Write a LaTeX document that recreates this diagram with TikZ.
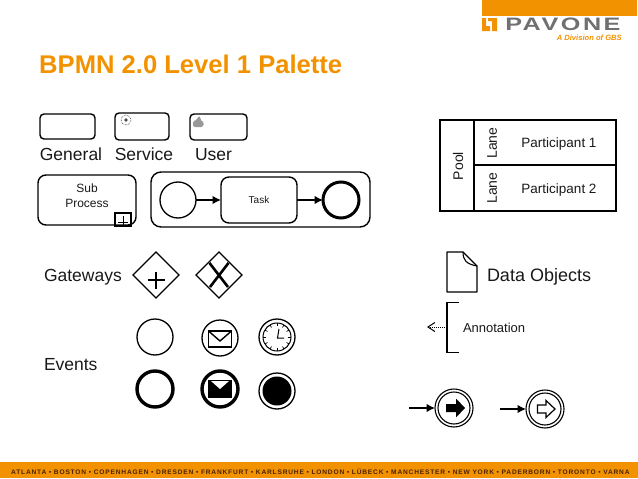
\documentclass[tikz,border=0pt]{standalone}
\usepackage{fontspec}
\setmainfont{Liberation Sans}
\newfontfamily\logofont[LetterSpace=10]{Liberation Sans}
\newfontfamily\footfont[LetterSpace=12.5]{Liberation Sans}
\usetikzlibrary{arrows.meta}
\usetikzlibrary{shapes.geometric}
\definecolor{pav}{HTML}{F39200}
\definecolor{logogray}{HTML}{6F7072}
\definecolor{footink}{HTML}{4A2400}
\tikzset{
 x=1pt,y=-1pt,
 txt/.style={inner sep=0,outer sep=0,text=black!90,font=\fontsize{#1}{#1}\selectfont},
 rbox/.style={draw,line width=1.4,rounded corners=#1,inner sep=0,outer sep=0},
 ev/.style={circle,draw,line width=#1,inner sep=0,outer sep=0,minimum size=36},
 gw/.style={diamond,draw,line width=1.4,inner sep=0,outer sep=0,minimum size=46,aspect=1},
 flow/.style={line width=1.3,-{Latex[length=8.5,width=8.5]}},
}
\begin{document}
\begin{tikzpicture}
\useasboundingbox (0,0) rectangle (638,479);
% bars
\fill[pav] (482,0) rectangle (637,16);
\fill[pav] (0,462) rectangle (638,478);
\node[inner sep=0,text=footink,font=\footfont\bfseries\fontsize{6.6}{7}\selectfont,anchor=west] (foot) at (11,471.5) {ATLANTA • BOSTON • COPENHAGEN • DRESDEN • FRANKFURT • KARLSRUHE • LONDON • LÜBECK • MANCHESTER • NEW YORK • PADERBORN • TORONTO • VARNA};
% logo
\fill[pav] (482,18) -- (486,18) -- (486,26) -- (490,26) -- (490,31) -- (482,31) -- cycle;
\fill[pav] (488,18) -- (497,18) -- (497,31) -- (492,31) -- (492,21) -- (488,21) -- cycle;
\node[inner sep=0,anchor=west,text=logogray,font=\logofont\bfseries\fontsize{18}{18}\selectfont,xscale=1.4,transform shape] (logo) at (505,24.5) {PAVONE};
\node[inner sep=0,anchor=east,text=pav,font=\bfseries\itshape\fontsize{7.6}{8}\selectfont] (gbs) at (622,37.5) {A Division of GBS};
% title
\node[inner sep=0,anchor=west,text=pav,font=\bfseries\fontsize{25.6}{26}\selectfont] (title) at (39,64) {BPMN 2.0 Level 1 Palette};
% task types
\node[rbox=4,minimum width=55,minimum height=25] (general) at (67.5,126.5) {};
\node[rbox=4,minimum width=54,minimum height=27] (service) at (142,126.5) {};
\node[rbox=4,minimum width=57,minimum height=26] (user) at (218.5,127) {};
\node[txt=17.5,anchor=base] (lgeneral) at (71,160) {General};
\node[txt=17.5,anchor=base] (lservice) at (144,160) {Service};
\node[txt=17.5,anchor=base] (luser) at (213.5,160) {User};
% service / user icons
\draw[line width=.6,densely dotted,black!80] (126,120) circle (5);
\fill[black!70] (126,120) circle (1.8);
\fill[black!40,rounded corners=1.5] (193,127) -- (193,121) -- (197,120) -- (198,116) -- (201,117) -- (200,120) -- (204,122) -- (203,127) -- cycle;
% sub process
\node[rbox=8,minimum width=98,minimum height=50] (sub) at (87,200) {};
\node[txt=12,align=center] (lsub) at (87,196) {Sub\\[3pt]Process};
\node[draw,line width=1.4,inner sep=0,outer sep=0,minimum width=16,minimum height=13] (plusbox) at (123,219.5) {};
\draw[line width=1] (123,216) -- (123,226) (118,222) -- (128,222);
% process
\node[rbox=10,minimum width=219,minimum height=55] (proc) at (260.5,199.5) {};
\node[ev=1.3] (start) at (178,200) {};
\node[rbox=8,minimum width=76,minimum height=46] (task) at (259,200) {};
\node[txt=10] (ltask) at (259,200) {Task};
\node[ev=3] (end) at (341,200) {};
\draw[flow] (start) -- (task);
\draw[flow] (task) -- (end);
% gateways
\node[txt=17.5,anchor=west] (lgw) at (44,277) {Gateways};
\node[gw] (gwp) at (156,275) {};
\draw[line width=2.3] (156,271.5) -- (156,288.5) (147.5,280) -- (164.5,280);
\node[gw] (gwx) at (219,275) {};
\draw[line width=2.6] (209.5,263) -- (228,287) (228.5,263) -- (210,287);
% events
\node[txt=17.5,anchor=west] (lev) at (44,364.5) {Events};
\node[ev=1.3] (e1) at (155,337) {};
\node[ev=1.3] (e2) at (220,338) {};
\draw[line width=1.5] (208.5,331) rectangle (231.5,347);
\draw[line width=1.4] (208.5,331) -- (220,341) -- (231.5,331);
\node[ev=1.3] (clock) at (277,337) {};
\node[circle,draw,line width=1,inner sep=0,outer sep=0,minimum size=28] (clocki) at (277,337) {};
\foreach \a in {0,30,...,330} \draw[line width=.7] (clocki.center) ++(\a:11) -- ++(\a:3);
\draw[line width=1] (279,329) -- (277.5,338) -- (284,338);
\node[ev=3.4] (e4) at (155,389) {};
\node[ev=3.4] (e5) at (220,389) {};
\fill (208,380) rectangle (232,398);
\fill[white] (211,381) -- (229,381) -- (220,389) -- cycle;
\node[ev=1.3] (e6) at (277,391) {};
\node[circle,fill=black,inner sep=0,outer sep=0,minimum size=29] (e6i) at (277,391) {};
% pool
\node[draw,line width=1.6,inner sep=0,outer sep=0,minimum width=176,minimum height=91] (pool) at (528,165.5) {};
\draw[line width=1.6] (474,120) -- (474,211) (474,165) -- (616,165);
\node[txt=14,rotate=90] (lpool) at (458,166) {Pool};
\node[txt=14,rotate=90] (llane1) at (492,143) {Lane};
\node[txt=14,rotate=90] (llane2) at (492,188) {Lane};
\node[txt=13.5] (lp1) at (559,144.5) {Participant 1};
\node[txt=13.5] (lp2) at (559,190.5) {Participant 2};
% data object
\draw[line width=1.3,line join=round] (447,252) -- (463,252) -- (477,266) -- (477,292) -- (447,292) -- cycle;
\draw[line width=1.1,line join=round] (463,252) .. controls (463,260) and (466,264) .. (477,266);
\node[txt=18,anchor=west] (ldata) at (487,276.5) {Data Objects};
% annotation
\coordinate (anb) at (447,327);
\coordinate (anf) at (427,327);
\draw[line width=1.2] (459,302.5) -- (447,302.5) -- (447,352.5) -- (459,352.5);
\draw[line width=1,densely dotted,-{Straight Barb[length=7,width=9]}] (anb) -- (anf);
\node[txt=13,anchor=west] (lan) at (463,327.5) {Annotation};
% intermediate events
\coordinate (a1) at (409,408);
\coordinate (a2) at (500,409);
\node[circle,draw,line width=1.1,inner sep=0,outer sep=0,minimum size=38] (i1) at (454,408) {};
\node[circle,draw,line width=1.1,inner sep=0,outer sep=0,minimum size=32] (i1b) at (454,408) {};
\fill (446,404) -- (456,404) -- (456,398.5) -- (465,408) -- (456,417.5) -- (456,412) -- (446,412) -- cycle;
\node[circle,draw,line width=1.1,inner sep=0,outer sep=0,minimum size=38] (i2) at (545,409) {};
\node[circle,draw,line width=1.1,inner sep=0,outer sep=0,minimum size=32] (i2b) at (545,409) {};
\draw[line width=1.2,line join=miter] (537.5,405) -- (546,405) -- (546,400.5) -- (555,409) -- (546,417.5) -- (546,413) -- (537.5,413) -- cycle;
\draw[flow] (a1) -- (i1);
\draw[flow] (a2) -- (i2);
\end{tikzpicture}
\end{document}
